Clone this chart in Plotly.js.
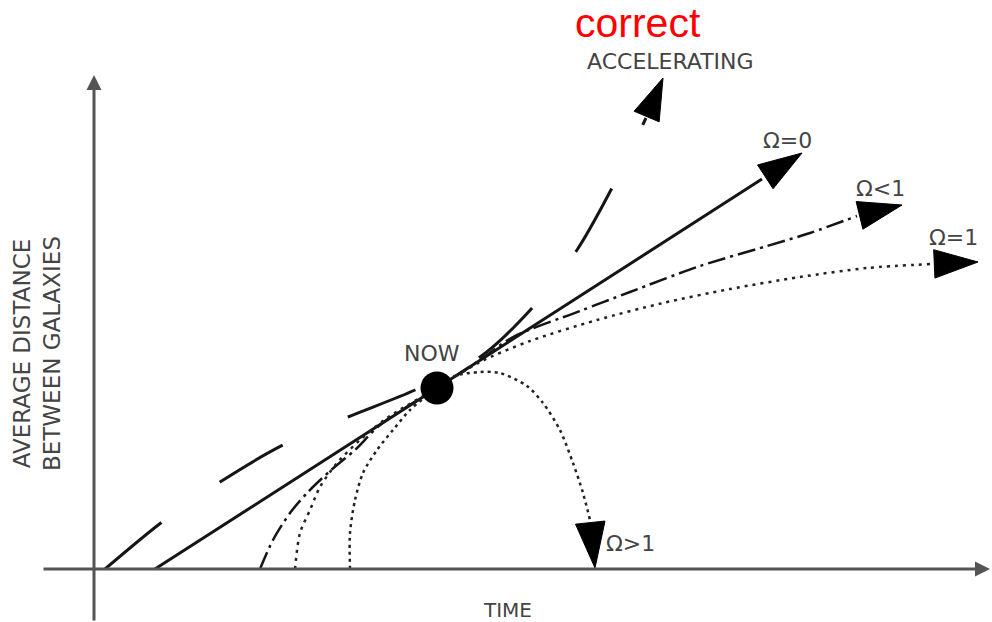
<!DOCTYPE html>
<html>
<head>
<meta charset="utf-8">
<script src="https://cdn.plot.ly/plotly-3.0.1.min.js"></script>
<style>
  html, body { margin: 0; padding: 0; background: #fff; }
  #plot { width: 992px; height: 622px; }
</style>
</head>
<body>
<div id="plot"></div>
<script>
// time runs along x, average distance along y (origin where the two axes cross)
var nowX = [343];
var nowY = [181];

var omega0X = [61, 343, 668];
var omega0Y = [0, 181, 390];
var omega0Tip = [708, 416];

var accelX = [11, 68, 126, 189, 254, 321, 386, 439, 483, 518, 552];
var accelY = [0, 47, 87, 124, 152, 179, 212, 262, 319, 381, 451];
var accelTip = [569, 491];

var openX = [166, 179, 196, 213, 236, 261, 286, 343, 386, 419, 486, 536, 606, 673, 716, 763];
var openY = [0, 29, 56, 76, 98, 119, 144, 181, 209, 232, 258, 277, 303, 323, 336, 353];
var openTip = [808, 364];

var flatX = [201, 206, 216, 226, 243, 266, 293, 343, 386, 436, 503, 569, 636, 706, 773, 838];
var flatY = [0, 36, 59, 82, 106, 129, 151, 181, 207, 228, 249, 266, 280, 292, 301, 305];
var flatTip = [884, 307];

var closedX = [256, 256, 261, 269, 283, 299, 316, 343, 361, 386, 406, 433, 449, 466, 479, 489, 496];
var closedY = [0, 36, 69, 96, 119, 139, 159, 181, 193, 197, 196, 183, 166, 139, 106, 76, 49];
var closedTip = [501, 1];

var ink = '#151515';

function curve(x, y, width, dash, color) {
  return {
    x: x, y: y, mode: 'lines', type: 'scatter',
    line: {color: color || ink, width: width, dash: dash, shape: 'spline', smoothing: 0.8},
    hoverinfo: 'skip'
  };
}

// arrow head marker at the tip, turned along the last stretch of the curve
function head(xs, ys, tip, size) {
  return {
    x: [xs[xs.length - 1], tip[0]], y: [ys[ys.length - 1], tip[1]],
    mode: 'markers', type: 'scatter',
    marker: {symbol: 'arrow', size: [0, size], angleref: 'previous', color: '#000',
             opacity: 1, line: {width: 1, color: '#000'}},
    hoverinfo: 'skip'
  };
}

var data = [
  curve(accelX, accelY, 3, '73px,71px'),
  curve(omega0X, omega0Y, 3, 'solid'),
  curve(openX, openY, 2.5, '18px,5px,3px,5px'),
  curve(flatX, flatY, 2.5, '3px,5px', '#222'),
  curve(closedX, closedY, 2.5, '3px,4px', '#222'),
  head(omega0X, omega0Y, omega0Tip, 46),
  head(accelX, accelY, accelTip, 44),
  head(openX, openY, openTip, 46),
  head(flatX, flatY, flatTip, 46),
  head(closedX, closedY, closedTip, 48),
  {
    x: nowX, y: nowY, mode: 'markers', type: 'scatter',
    marker: {size: 33, color: '#000'},
    hoverinfo: 'skip'
  }
];

function label(text, x, y, size, extra) {
  var a = {
    text: text, x: x, y: y, xref: 'x', yref: 'y', showarrow: false,
    font: {family: 'DejaVu Sans', size: size, color: '#444'}
  };
  for (var k in extra) a[k] = extra[k];
  return a;
}

var annotations = [
  // axes
  {x: 896, y: 0, ax: -52, ay: 0, xref: 'x', yref: 'y', axref: 'x', ayref: 'y',
   text: '', showarrow: true, arrowhead: 2, arrowwidth: 3, arrowsize: 1, arrowcolor: '#555'},
  {x: 0, y: 494, ax: 0, ay: -53, xref: 'x', yref: 'y', axref: 'x', ayref: 'y',
   text: '', showarrow: true, arrowhead: 2, arrowwidth: 3, arrowsize: 1, arrowcolor: '#555'},
  label('correct', 544, 546, 41, {font: {family: 'Liberation Sans, Arial', size: 41, color: '#ff0000'}}),
  label('ACCELERATING', 576, 508, 22),
  label('Ω=0', 693, 429, 22),
  label('Ω&lt;1', 786, 381, 22),
  label('Ω=1', 859, 332, 22),
  label('Ω&gt;1', 536, 26, 22),
  label('NOW', 338, 216, 22),
  label('TIME', 413, -41, 20),
  label('AVERAGE DISTANCE<br>BETWEEN GALAXIES', -57, 215, 23, {textangle: -90})
];

var layout = {
  width: 992,
  height: 622,
  margin: {l: 0, r: 0, t: 0, b: 0},
  paper_bgcolor: '#fff',
  plot_bgcolor: '#fff',
  showlegend: false,
  xaxis: {range: [-94, 898], visible: false, fixedrange: true},
  yaxis: {range: [-53, 569], visible: false, fixedrange: true},
  annotations: annotations
};

Plotly.newPlot('plot', data, layout, {staticPlot: true});
</script>
</body>
</html>
